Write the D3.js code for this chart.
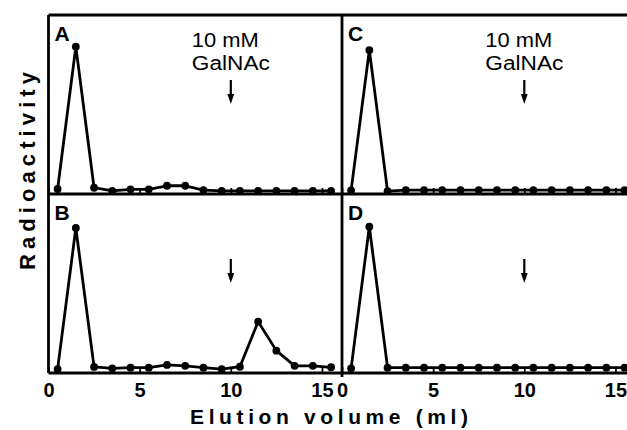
<!DOCTYPE html>
<html>
<head>
<meta charset="utf-8">
<script src="https://cdn.jsdelivr.net/npm/d3@7/dist/d3.min.js"></script>
<style>
  html, body { margin: 0; padding: 0; background: #fff; }
  svg { display: block; }
</style>
</head>
<body>
<svg id="chart" width="627" height="430"></svg>
<script>
// ---- data ----
const volume = [0.5, 1.5, 2.5, 3.5, 4.5, 5.5, 6.5, 7.5, 8.5, 9.5, 10.5, 11.5, 12.5, 13.5, 14.5, 15.5];
const panelA = [2.8, 82.3, 3.5, 1.8, 2.6, 2.6, 4.6, 4.6, 2.2, 1.8, 1.8, 1.8, 1.8, 1.8, 1.8, 1.8];
const panelB = [2.2, 81.0, 3.4, 2.6, 3.0, 3.0, 4.5, 4.0, 3.0, 2.2, 3.5, 28.7, 12.5, 4.0, 4.0, 3.2];
const panelC = [2.0, 80.4, 1.6, 2.2, 2.2, 2.2, 2.2, 2.2, 2.2, 2.2, 2.2, 2.2, 2.2, 2.2, 2.2, 2.2];
const panelD = [2.6, 81.7, 3.0, 3.0, 3.0, 3.0, 3.0, 3.0, 3.0, 3.0, 3.0, 3.0, 3.0, 3.0, 3.0, 3.0];
const panelLabels = ["A", "B", "C", "D"];
const xTicks = [0, 5, 10, 15];
const arrowAt = 10;
const annotationLines = ["10 mM", "GalNAc"];
const xTitle = "Elution volume (ml)";
const yTitle = "Radioactivity";

// ---- layout ----
const svg = d3.select("#chart");
const W = 627;
const colX = [[48.5, 342], [342, 635.5]];
const rowY = [[194, 15], [373, 194]];
const xDomain = [0, 16.1];
const yDomain = [0, 100];
const font = "'Liberation Sans', Arial, Helvetica, sans-serif";

const panels = [
  { label: panelLabels[0], values: panelA, col: 0, row: 0, annotate: true },
  { label: panelLabels[1], values: panelB, col: 0, row: 1, annotate: false },
  { label: panelLabels[2], values: panelC, col: 1, row: 0, annotate: true },
  { label: panelLabels[3], values: panelD, col: 1, row: 1, annotate: false }
];

panels.forEach(p => {
  const x = d3.scaleLinear().domain(xDomain).range(colX[p.col]);
  const y = d3.scaleLinear().domain(yDomain).range(rowY[p.row]);
  const g = svg.append("g");

  // axis (inward ticks)
  const axis = d3.axisBottom(x).tickValues(xTicks).tickSize(-6).tickSizeOuter(0).tickPadding(10);
  if (p.row === 0) axis.tickFormat("");
  const ax = g.append("g").attr("transform", `translate(0,${rowY[p.row][0]})`).call(axis);
  ax.select(".domain").remove();
  ax.selectAll(".tick line").attr("stroke", "#000").attr("stroke-width", 1.8);
  ax.selectAll(".tick text")
    .attr("font-family", font).attr("font-size", 20).attr("font-weight", "bold").attr("fill", "#000");

  // data line
  const pts = volume.map((v, i) => [v, p.values[i]]);
  const line = d3.line().x(d => x(d[0])).y(d => y(d[1]));
  g.append("path").datum(pts)
    .attr("d", line).attr("fill", "none").attr("stroke", "#000")
    .attr("stroke-width", 2.8).attr("stroke-linejoin", "round");
  g.selectAll("circle").data(pts).join("circle")
    .attr("cx", d => x(d[0])).attr("cy", d => y(d[1])).attr("r", 3.9).attr("fill", "#000");

  // panel letter
  g.append("text").text(p.label)
    .attr("x", colX[p.col][0] + 6).attr("y", rowY[p.row][1] + 26)
    .attr("font-family", font).attr("font-size", 21).attr("font-weight", "bold").attr("fill", "#000");

  // arrow
  const ax0 = x(arrowAt);
  const top = rowY[p.row][1];
  const a1 = top + 65, a2 = top + 89;
  g.append("line").attr("x1", ax0).attr("x2", ax0).attr("y1", a1).attr("y2", a2 - 8)
    .attr("stroke", "#000").attr("stroke-width", 2.2);
  g.append("path")
    .attr("d", `M${ax0 - 3.4},${a2 - 10} L${ax0 + 3.4},${a2 - 10} L${ax0},${a2} Z`)
    .attr("fill", "#000");

  if (p.annotate) {
    const tx = ax0 - 39;
    g.append("text").text(annotationLines[0])
      .attr("x", tx).attr("y", top + 32)
      .attr("textLength", 67).attr("lengthAdjust", "spacingAndGlyphs")
      .attr("font-family", font).attr("font-size", 20).attr("fill", "#000");
    g.append("text").text(annotationLines[1])
      .attr("x", tx).attr("y", top + 55)
      .attr("textLength", 78).attr("lengthAdjust", "spacingAndGlyphs")
      .attr("font-family", font).attr("font-size", 20).attr("fill", "#000");
  }
});

// ---- frame ----
const frame = svg.append("g").attr("stroke", "#000").attr("stroke-width", 2.8).attr("fill", "none");
frame.append("line").attr("x1", 48.5).attr("x2", W).attr("y1", 15).attr("y2", 15);
frame.append("line").attr("x1", 48.5).attr("x2", W).attr("y1", 194).attr("y2", 194);
frame.append("line").attr("x1", 48.5).attr("x2", W).attr("y1", 373).attr("y2", 373);
frame.append("line").attr("x1", 48.5).attr("x2", 48.5).attr("y1", 15).attr("y2", 373);
frame.append("line").attr("x1", 342).attr("x2", 342).attr("y1", 15).attr("y2", 377);

// ---- axis titles ----
svg.append("text").text(xTitle)
  .attr("x", 190).attr("y", 424)
  .attr("textLength", 278).attr("lengthAdjust", "spacing")
  .attr("font-family", font).attr("font-size", 21).attr("font-weight", "bold").attr("fill", "#000");

svg.append("text").text(yTitle)
  .attr("transform", "translate(35,270) rotate(-90)")
  .attr("x", 0).attr("y", 0)
  .attr("textLength", 198).attr("lengthAdjust", "spacing")
  .attr("font-family", font).attr("font-size", 22).attr("font-weight", "bold").attr("fill", "#000");
</script>
</body>
</html>
